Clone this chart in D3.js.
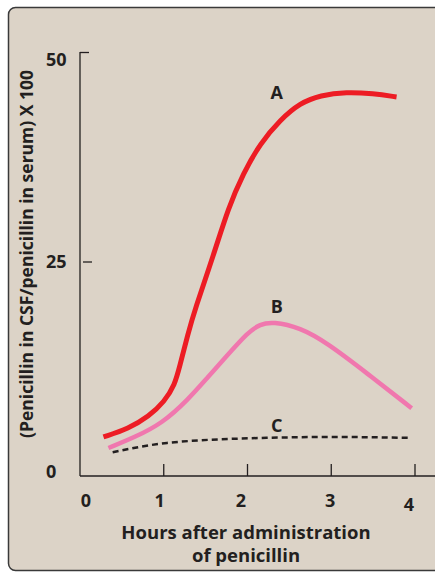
<!DOCTYPE html>
<html><head><meta charset="utf-8">
<script src="https://cdn.jsdelivr.net/npm/d3@7"></script>
<style>
html,body{margin:0;padding:0;background:#fff;}
svg{display:block;}
text{font-family:"Open Sans","Noto Sans",sans-serif;font-weight:700;fill:#231f20;}
</style></head>
<body>
<script>
// Data (hours, ratio x100)
const seriesA = [[0.28,4.6],[0.58,5.6],[0.82,7.0],[1.01,8.8],[1.13,10.7],[1.19,12.9],[1.29,16.8],[1.37,19.6],[1.6,26.2],[1.77,31.6],[1.95,35.7],[2.15,39.2],[2.39,42.0],[2.63,44.0],[2.87,44.9],[3.18,45.3],[3.5,45.1],[3.78,44.7]];
const seriesB = [[0.34,3.3],[0.66,4.6],[0.98,6.2],[1.29,9.0],[1.53,11.7],[1.73,13.9],[2.01,17.0],[2.15,17.9],[2.30,18.2],[2.63,17.5],[2.95,15.7],[3.43,12.1],[3.96,8.0]];
const seriesC = [[0.39,2.8],[1.04,3.9],[2.23,4.5],[3.02,4.6],[3.94,4.5]];
const seriesNames = ["A","B","C"];
const labelPos = [[2.35,44.5],[2.35,19.2],[2.35,5.2]];
const xTicks = [1,2,3,4];
const xTickLabels = ["0","1","2","3","4"];
const yTicks = [0,25,50];
const yTickLabels = ["0","25","50"];
const yTitle = "(Penicillin in CSF/penicillin in serum) X 100";
const xTitle = ["Hours after administration","of penicillin"];

const W = 435, H = 572;
const svg = d3.select("body").append("svg").attr("width",W).attr("height",H);

// panel
svg.append("rect").attr("x",8.5).attr("y",7.5).attr("width",W).attr("height",563)
  .attr("rx",7).attr("fill","#dcd3c7").attr("stroke","#3a3a3a").attr("stroke-width",1.5);

const x = d3.scaleLinear().domain([0,4]).range([80,415]);
const y = d3.scaleLinear().domain([0,50]).range([476,52]);

// y axis
svg.append("line").attr("x1",80).attr("x2",80).attr("y1",y(50)).attr("y2",y(0))
  .attr("stroke","#231f20").attr("stroke-width",1.3);
svg.append("line").attr("x1",80).attr("x2",89).attr("y1",y(50)+0.5).attr("y2",y(50)+0.5)
  .attr("stroke","#231f20").attr("stroke-width",1.3);
svg.append("line").attr("x1",83).attr("x2",92).attr("y1",y(25)-2).attr("y2",y(25)-2)
  .attr("stroke","#231f20").attr("stroke-width",1.3);
// x axis
svg.append("line").attr("x1",80).attr("x2",W).attr("y1",y(0)).attr("y2",y(0))
  .attr("stroke","#231f20").attr("stroke-width",1.5);
svg.selectAll(".xt").data(xTicks).enter().append("line")
  .attr("x1",d=>x(d)).attr("x2",d=>x(d)).attr("y1",y(0)-12).attr("y2",y(0))
  .attr("stroke","#231f20").attr("stroke-width",1.3);

// tick labels
const xLabOff = [6,-4,-6.5,-1,-6];
const xLabBase = [507,507,507,507,511];
svg.selectAll(".xl").data(xTickLabels).enter().append("text")
  .attr("x",(d,i)=>x(i)+xLabOff[i]).attr("y",(d,i)=>xLabBase[i])
  .attr("text-anchor","middle").attr("font-size",18).text(d=>d);
const yLabDy = [2,4,14];
svg.selectAll(".yl").data(yTickLabels).enter().append("text")
  .attr("x",46).attr("y",(d,i)=>y(yTicks[i])+yLabDy[i])
  .attr("text-anchor","start").attr("font-size",18).text(d=>d);

// titles
svg.append("text").attr("transform","translate(33,254) rotate(-90)")
  .attr("text-anchor","middle").attr("font-size",17.5).text(yTitle);
svg.selectAll(".xtitle").data(xTitle).enter().append("text")
  .attr("x",246).attr("y",(d,i)=>539+i*23).attr("text-anchor","middle")
  .attr("font-size",18.5).text(d=>d);

// curves
const line = d3.line().x(d=>x(d[0])).y(d=>y(d[1])).curve(d3.curveBasis);
const lineC = d3.line().x(d=>x(d[0])).y(d=>y(d[1])).curve(d3.curveMonotoneX);
svg.append("path").attr("d",line(seriesA)).attr("fill","none")
  .attr("stroke","#ed1c24").attr("stroke-width",5);
svg.append("path").attr("d",line(seriesB)).attr("fill","none")
  .attr("stroke","#f077ae").attr("stroke-width",4.5);
svg.append("path").attr("d",lineC(seriesC)).attr("fill","none")
  .attr("stroke","#231f20").attr("stroke-width",2.5).attr("stroke-dasharray","6,4");

svg.selectAll(".sl").data(seriesNames).enter().append("text")
  .attr("x",(d,i)=>x(labelPos[i][0])).attr("y",(d,i)=>y(labelPos[i][1]))
  .attr("text-anchor","middle").attr("font-size",18).text(d=>d);
</script>
</body></html>
